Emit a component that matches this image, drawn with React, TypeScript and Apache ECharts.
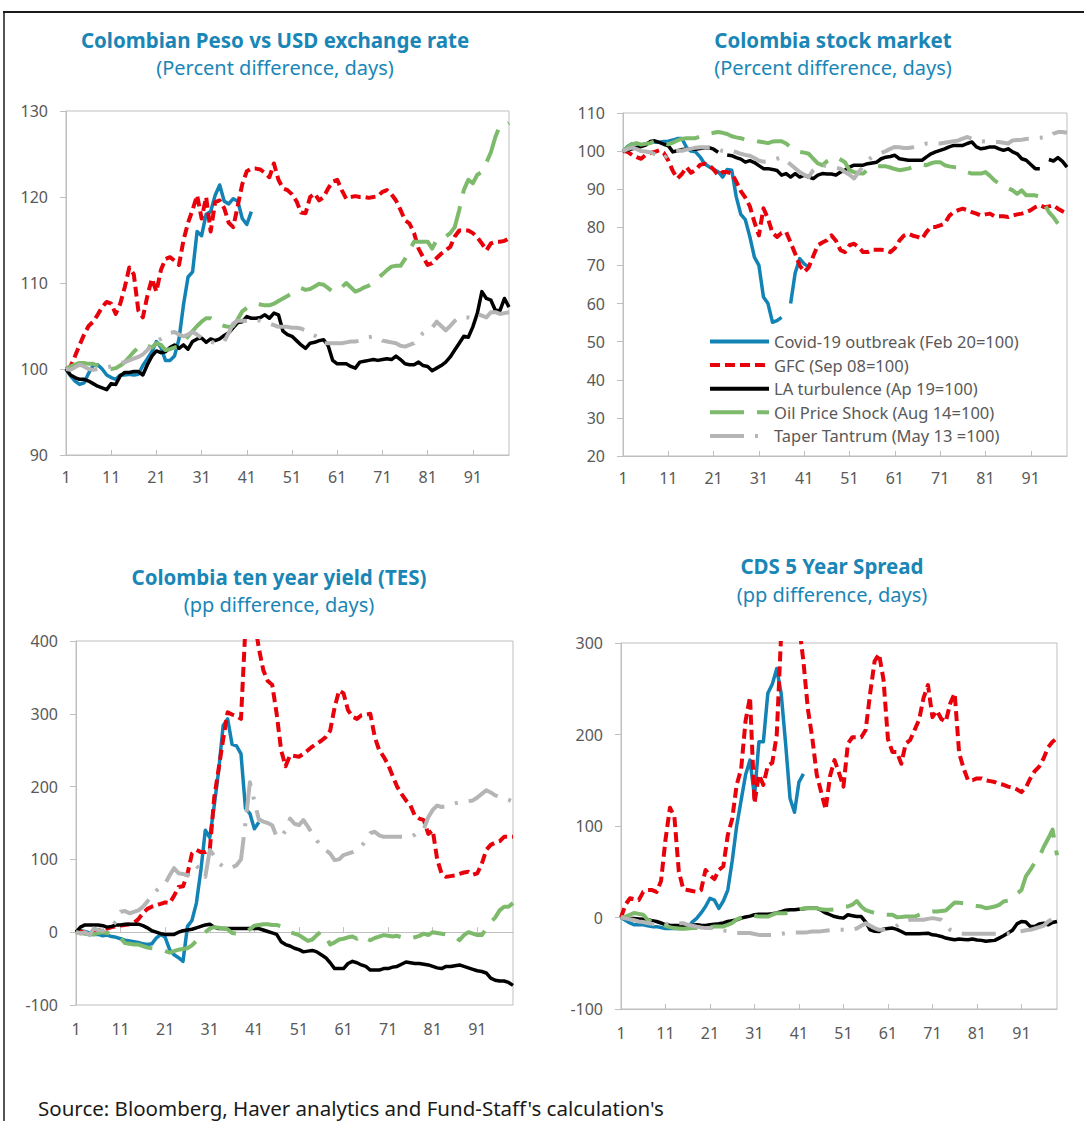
import React, { useEffect, useRef } from "react";
import * as echarts from "echarts";

// ---------- categories ----------
const DAYS = Array.from({ length: 99 }, (_, i) => String(i + 1));
const SERIES_NAMES = [
  "Covid-19 outbreak (Feb 20=100)",
  "GFC (Sep 08=100)",
  "LA turbulence (Ap 19=100)",
  "Oil Price Shock (Aug 14=100)",
  "Taper Tantrum (May 13 =100)",
];

// ---------- Panel 1: Colombian Peso vs USD ----------
const pesoCovid = [100, 99.2, 98.6, 98.2, 98.4, 99.5, 100.4, 100.5, 100.0, 99.3,
  99.0, 98.8, 99.3, 99.3, 99.4, 99.3, 99.4, 100.4, 101.2, 102.0,
  103.2, 102.5, 101.0, 101.0, 101.5, 103.5, 107.5, 110.7, 111.3, 116.0,
  115.5, 118.0, 118.3, 120.2, 121.4, 119.5, 119.2, 119.8, 119.5, 117.5,
  116.8, 118.3];
const pesoGfc = [100, 100.3, 101.5, 102.8, 104.0, 105.0, 105.5, 106.3, 107.2, 107.8,
  107.6, 106.4, 107.6, 109.5, 111.8, 111.0, 106.8, 106.0, 108.5, 110.5,
  109.0, 111.5, 112.8, 113.0, 112.6, 112.1, 115.0, 117.0, 118.5, 120.2,
  117.5, 120.0, 116.0, 119.4, 119.6, 118.7, 117.0, 116.5, 119.0, 121.5,
  123.0, 123.3, 123.3, 123.2, 122.8, 122.3, 123.9, 122.0, 121.0, 120.8,
  120.3, 119.5, 118.2, 118.1, 120.0, 120.4, 119.6, 120.0, 121.0, 121.8,
  122.0, 120.8, 119.8, 120.0, 120.1, 120.0, 120.0, 119.9, 120.0, 120.1,
  120.6, 120.8, 120.3, 119.6, 118.5, 117.3, 116.9, 115.8, 114.0, 113.0,
  112.1, 112.3, 112.9, 113.4, 113.8, 114.2, 115.4, 116.1, 116.1, 116.1,
  115.8, 115.3, 114.6, 113.8, 114.6, 114.8, 114.8, 114.9, 115.2];
const pesoLa = [100, 99.3, 99.0, 98.8, 98.8, 98.6, 98.3, 98.0, 97.8, 97.6,
  98.3, 98.2, 99.2, 99.6, 99.6, 99.7, 99.7, 99.3, 100.5, 101.5,
  102.1, 101.9, 102.0, 102.5, 102.8, 102.4, 102.8, 102.3, 103.2, 103.5,
  103.6, 103.1, 103.5, 103.3, 103.5, 103.9, 104.2, 104.8, 105.4, 105.5,
  106.1, 105.9, 105.9, 106.0, 106.3, 105.9, 106.5, 106.3, 104.4, 104.0,
  103.8, 103.3, 102.8, 102.4, 103.0, 103.1, 103.3, 103.4, 102.7, 101.0,
  100.6, 100.6, 100.6, 100.3, 100.1, 100.8, 100.9, 101.0, 101.1, 101.0,
  101.1, 101.2, 101.1, 101.5, 101.1, 100.6, 100.5, 100.5, 100.8, 100.4,
  100.3, 99.8, 100.1, 100.4, 100.8, 101.4, 102.2, 103.0, 103.8, 103.7,
  104.9, 106.5, 109.0, 108.2, 108.0, 106.8, 106.8, 108.2, 107.2];
const pesoOil = [100, 100.3, 100.5, 100.7, 100.7, 100.6, 100.6, 100.4, 100.2, 100.0,
  100.0, 100.1, 100.4, 100.8, 101.4, 102.0, 102.5, 102.9, 102.7, 102.5,
  103.0, 102.8, 102.2, 102.3, 102.5, 102.6, 103.2, 103.8, 104.4, 105.0,
  105.5, 105.9, 105.9, 105.6, 105.2, 105.0, 104.9, 105.0, 105.8, 106.7,
  107.1, 107.4, 107.6, 107.5, 107.4, 107.4, 107.6, 107.9, 108.2, 108.5,
  108.8, 109.0, 109.4, 109.2, 109.3, 109.6, 109.9, 109.8, 109.4, 109.0,
  109.1, 109.5, 110.0, 109.5, 109.0, 109.2, 109.5, 109.7, 110.0, 110.6,
  111.0, 111.5, 111.9, 112.0, 112.0, 112.8, 113.8, 114.8, 114.8, 114.8,
  114.8, 114.0, 115.0, 115.2, 115.4, 115.8, 116.5, 118.5, 120.8, 122.0,
  121.6, 122.6, 122.9, 124.0, 125.2, 127.0, 128.3, 128.3, 128.6];
const pesoTaper = [100, 99.9, 100.2, 100.5, 100.3, 100.0, 99.9, 100.0, 100.1, 100.2,
  100.3, 100.5, 100.7, 100.8, 101.0, 101.2, 101.4, 101.7, 102.2, 102.8,
  103.3, 103.5, 103.8, 104.2, 104.3, 104.0, 103.8, 104.0, 104.3, 104.0,
  103.6, 103.4, 103.2, 103.0, 103.0, 103.2, 104.2, 105.3, 105.6, 105.6,
  105.6, 105.7, 105.7, 105.6, 105.4, 105.3, 105.1, 104.9, 104.9, 104.9,
  104.8, 104.8, 104.7, 104.5, 104.2, 103.9, 103.6, 103.0, 103.0, 103.0,
  103.0, 103.0, 103.1, 103.2, 103.2, 103.3, 103.5, 103.7, 103.8, 103.6,
  103.3, 103.2, 103.1, 103.0, 102.7, 102.6, 102.8, 103.0, 103.5, 104.2,
  104.5, 104.8, 105.5, 105.0, 104.5, 105.0, 105.6, 106.0, 106.0, 106.0,
  105.9, 106.4, 106.2, 106.0, 106.6, 106.6, 106.4, 106.5, 106.6];

// ---------- Panel 2: Colombia stock market ----------
const stockCovid = [100, 101.2, 101.9, 101.9, 101.6, 101.9, 102.3, 102.4, 102.3, 102.5,
  102.6, 102.9, 103.3, 103.3, 101.0, 100.0, 99.8, 98.5, 96.7, 95.9,
  95.2, 94.6, 93.2, 95.2, 95.0, 88.0, 83.4, 82.0, 77.5, 72.2,
  70.0, 61.7, 60.0, 55.1, 55.5, 56.4, null, 60.0, 68.0, 71.8,
  70.4, 69.6];
const stockGfc = [100, 99.8, 99.0, 98.4, 98.0, 99.0, 99.5, 99.8, 100.2, 99.5,
  97.5, 94.8, 92.8, 94.0, 95.8, 94.3, 95.0, 96.4, 96.7, 96.3,
  95.2, 93.7, 94.5, 94.5, 94.1, 92.0, 89.5, 87.8, 85.5, 81.4,
  77.9, 85.0, 82.3, 78.5, 77.5, 78.5, 78.8, 76.0, 73.1, 70.0,
  68.3, 69.5, 72.5, 75.3, 76.0, 76.6, 77.9, 76.5, 74.0, 73.5,
  75.3, 75.7, 74.8, 73.5, 73.5, 74.1, 74.1, 74.1, 74.0, 73.5,
  74.5, 76.5, 77.8, 78.3, 77.8, 77.5, 77.0, 78.8, 80.1, 80.1,
  80.5, 81.0, 83.0, 84.0, 84.5, 84.9, 84.5, 84.0, 83.6, 83.1,
  83.4, 83.6, 82.9, 82.9, 82.9, 82.7, 83.1, 83.4, 83.6, 84.0,
  84.5, 85.3, 85.8, 85.3, 85.5, 85.8, 84.9, 84.2, 83.6];
const stockLa = [100, 100.3, 100.6, 100.9, 101.2, 101.6, 102.5, 102.7, 102.3, 101.8,
  101.4, 99.8, 100.1, 100.4, 100.5, 100.5, 100.5, 100.7, 100.9, 100.9,
  100.5, 99.7, null, 99.0, 98.8, 98.3, 97.9, 97.1, 97.5, 97.0,
  96.2, 95.4, 95.4, 95.2, 94.9, 93.7, 94.1, 93.2, 94.1, 93.2,
  93.7, 93.2, 92.8, 93.7, 94.1, 94.0, 94.0, 93.7, 94.5, 95.0,
  95.8, 96.3, 96.3, 96.3, 96.7, 96.9, 97.1, 98.0, 98.4, 98.6,
  98.9, 98.0, 97.8, 97.6, 97.6, 97.6, 97.6, 98.5, 99.3, 99.8,
  100.2, 100.6, 101.1, 101.5, 101.5, 101.5, 102.0, 102.4, 101.1, 100.6,
  100.8, 101.1, 101.1, 100.6, 100.2, 100.6, 99.8, 99.3, 98.0, 97.6,
  96.5, 95.4, 95.4, null, 97.8, 97.4, 98.3, 97.3, 95.8];
const stockOil = [100, 101.0, 101.8, 102.1, 101.7, 101.9, 102.1, 102.6, 102.3, 102.1,
  101.8, 102.2, 102.8, 103.2, 103.4, 103.4, 103.4, 103.8, 104.3, 104.6,
  104.8, 105.0, 104.8, 104.5, 103.9, 103.6, 103.4, 103.0, 103.0, 102.8,
  102.5, 102.3, 102.1, 102.5, 102.6, 102.6, 102.0, 101.0, 100.0, 99.8,
  99.6, 99.3, 98.0, 96.8, 96.3, 97.3, 97.9, 98.5, 97.8, 97.1,
  95.0, 94.5, 94.2, 94.1, 95.2, 95.8, 96.0, 96.0, 96.0, 95.7,
  95.3, 95.0, 95.2, 95.4, 95.8, 96.3, 96.5, 96.3, 96.8, 97.1,
  97.1, 96.3, 96.0, 95.8, 95.6, 95.0, 94.5, 94.1, 94.1, 94.1,
  94.5, 93.5, 92.3, 91.5, 91.0, 90.3, 89.7, 88.8, 89.7, 88.4,
  88.4, 88.4, 88.0, 86.2, 84.0, 82.7, 81.0, null, null];
const stockTaper = [100, 100.5, 100.9, 100.5, 100.0, 99.9, 99.7, 99.2, 98.8, 98.0,
  99.3, 100.0, 100.1, 100.1, 100.4, 100.6, 100.9, 101.0, 101.0, 101.0,
  101.0, 100.5, 100.0, 99.8, 100.1, 99.7, 99.3, 99.0, 98.8, 98.2,
  97.5, 97.2, 97.3, 97.6, 98.0, 98.4, 97.5, 96.5, 95.5, 94.5,
  93.8, 93.2, 95.0, 96.0, 96.3, 96.0, 95.8, 95.6, 95.4, 94.5,
  93.8, 92.8, 94.5, 96.0, 97.5, 98.5, 99.0, 99.5, 100.0, 100.6,
  101.1, 101.0, 100.8, 100.8, 101.0, 101.3, 101.6, 102.0, 102.0, 102.0,
  102.0, 102.2, 102.4, 102.6, 102.8, 103.3, 103.7, 103.2, 102.8, 102.6,
  102.5, 102.4, 102.4, 102.4, 102.2, 102.0, 102.8, 102.9, 103.0, 103.2,
  103.3, 103.4, 103.5, 103.6, 103.7, 104.6, 105.0, 105.0, 104.8];

// ---------- Panel 3: Colombia ten year yield (TES) ----------
const tesCovid = [0, 2, 1, -1, -3, -3, -5, -4, -6, -7,
  -9, -11, -12, -13, -14, -16, -17, -16, -8, -3,
  -7, -24, -31, -35, -40, 8, 16, 40, 85, 140,
  130, 174, 222, 284, 293, 258, 256, 245, 170, 163,
  142, 151];
const tesGfc = [0, 1, 0, 0, 1, 3, 4, 5, 7, 8,
  9, 10, 11, 13, 18, 26, 32, 35, 37, 39,
  41, 40, 50, 62, 63, 80, 108, 113, 110, 110,
  113, 185, 225, 265, 302, 299, 297, 293, 420, 450,
  430, 390, 360, 345, 340, 300, 250, 228, 243, 242,
  241, 245, 250, 255, 259, 263, 268, 277, 309, 332,
  328, 305, 296, 293, 298, 299, 300, 268, 250, 241,
  230, 215, 200, 190, 181, 174, 160, 156, 154, 135,
  140, 100, 80, 76, 77, 78, 80, 82, 83, 79,
  81, 94, 113, 120, 123, 125, 131, 131, 131];
const tesLa = [0, 7, 10, 10, 10, 10, 9, 7, 8, 10,
  10, 11, 11, 11, 11, 9, 6, 2, 0, -2,
  -3, -3, -3, 0, 2, 3, 4, 6, 8, 10,
  11, 7, 5, 5, 5, 5, 5, 5, 5, 5,
  5, 5, 3, 1, -1, -3, -13, -17, -19, -22,
  -24, -27, -26, -25, -27, -31, -35, -42, -50, -50,
  -50, -43, -40, -42, -45, -47, -52, -52, -52, -50,
  -50, -48, -47, -44, -41, -42, -43, -43, -44, -45,
  -47, -49, -50, -47, -47, -46, -45, -47, -49, -51,
  -53, -54, -56, -63, -66, -67, -67, -69, -73];
const tesOil = [0, -1, -2, -3, -3, -1, 0, -1, -2, -4,
  -8, -15, -16, -17, -17, -19, -21, -22, -23, -24,
  -26, -28, -26, -24, -23, -22, -18, -12, -6, 0,
  5, 7, 6, 5, 4, -1, -2, -1, 0, 4,
  9, 10, 11, 11, 10, 10, 8, 5, 0, -2,
  -4, -8, -12, -10, -4, 1, -6, -17, -14, -10,
  -9, -7, -6, -9, -4, -8, -11, -8, -6, -4,
  -5, -6, -5, -7, -9, -8, -7, -5, -2, -4,
  0, -1, -2, -3, -4, -6, -11, -4, 0, -2,
  -4, -4, 5, 14, 20, 30, 35, 35, 40];
const tesTaper = [0, -2, 0, -4, 5, 3, 2, 5, 8, 15,
  28, 29, 26, 28, 30, 35, 42, 50, 57, 62,
  67, 78, 88, 81, 80, 78, 82, 91, 85, 76,
  113, 105, 95, 90, 88, 89, 92, 100, 150, 206,
  180, 155, 152, 150, 147, 131, 131, 140, 156, 149,
  147, 154, 145, 135, 126, 118, 113, 108, 99, 100,
  106, 108, 110, 113, 118, 126, 136, 138, 133, 131,
  131, 131, 131, 131, 131, 131, 134, 140, 142, 158,
  168, 174, 172, 173, 175, 177, 178, 179, 180, 181,
  185, 190, 195, 192, 188, 186, 184, 182, 179];

// ---------- Panel 4: CDS 5 Year Spread ----------
const cdsCovid = [0, -3, -6, -8, -8, -8, -9, -10, -10, -11,
  -12, -12, -12, -12, -12, -11, -5, -1, 5, 12,
  21, 19, 10, 18, 30, 62, 100, 128, 156, 172,
  132, 192, 192, 245, 255, 272, 245, 190, 130, 115,
  148, 157];
const cdsGfc = [0, 14, 21, 20, 19, 28, 30, 30, 28, 40,
  85, 120, 110, 50, 31, 30, 29, 28, 30, 52,
  46, 42, 52, 56, 90, 108, 145, 162, 215, 241,
  125, 156, 145, 166, 169, 199, 310, 340, 350, 345,
  320, 280, 228, 196, 156, 137, 118, 155, 172, 158,
  143, 190, 197, 197, 197, 205, 245, 280, 288, 260,
  195, 181, 181, 168, 190, 194, 205, 216, 240, 254,
  219, 226, 217, 214, 234, 245, 180, 163, 150, 150,
  152, 152, 150, 149, 148, 146, 145, 143, 142, 140,
  137, 142, 152, 160, 165, 174, 186, 192, 196];
const cdsLa = [0, -0.5, -1, -1, -1.5, -2, -2.5, -3.5, -4.4, -6,
  -8, -8.5, -8.7, -8.7, -8.7, -8.7, -8.5, -8, -8.5, -8.7,
  -8, -7.3, -6.8, -6, -4.4, -3.5, -2.5, -0.7, 0.5, 1.5,
  3, 3.5, 3.6, 3.6, 4.2, 5, 6.5, 8, 8.4, 8.4,
  9, 9.5, 10, 10.2, 10.2, 8, 5, 3, 1, 0,
  -0.7, 3, 2, 1, 1, -5, -13.5, -15, -15.3, -12.7,
  -12, -11.6, -13, -15.3, -17.8, -17.8, -17.8, -17.8, -17.5, -17.1,
  -18.9, -19.5, -20.7, -22.5, -23.5, -24.4, -23.6, -24, -24.4, -23.6,
  -24.5, -25, -26, -25.5, -25, -22.5, -20, -17, -14, -7,
  -4.4, -5, -9.8, -9.8, -7, -6.2, -8, -5.5, -4.4];
const cdsOil = [0, 1, 3, 5, 4, 3, -2.5, -5, -6.5, -8,
  -9, -10.5, -11.6, -12, -12.4, -12, -11.6, -11.6, -11.6, -11.6,
  -11, -9.8, -9.8, -9.8, -8, -6, -2, 0, 2, 3,
  2, 1, 1, 1, 3, 4.7, 4.7, 4.7, 5, 8,
  9, 10, 10, 10, 10, 9, 8.4, 8.4, 9, 10,
  12, 12, 14, 18, 12, 8, 6.5, 5, 4.7, 3.5,
  3, 3, 0.4, 0.5, 1, 1, 1, 3, 4.7, 5.5,
  6.5, 6.5, 7, 7.6, 12, 16.4, 16, 15.6, 15, 13,
  12.5, 12, 10.2, 11, 12, 13.8, 17.5, 18.5, 21, 26,
  30, 45, 52, 60, 66, 77, 86, 96, 68];
const cdsTaper = [0, -1, -2, -3, -4.4, -5, -6, -7, -7, -7,
  -7, -6.5, -6.2, -6.2, -6.2, -8, -9, -10, -11, -11.6,
  -11.6, -12, -13, -14, -15, -16, -17, -17, -17, -17,
  -18, -19, -19, -19, -19, -19, -18, -17, -16.5, -16.4,
  -16.4, -16.4, -16, -15.3, -15.3, -15, -14.5, -14, -13.5, -13.5,
  -13.5, -13.5, -13.5, -12, -9, -6.2, -9, -11.6, -13.5, -13.5,
  -12, -11.6, -9, -6, -4, -2.5, -2.5, -2.5, -2.5, -1.5,
  -0.7, -1.5, -2.5, -8, -13.5, -15.5, -17, -17.8, -17.8, -17.8,
  -17.8, -17.8, -17.8, -17.8, -17.8, -17.8, -17.8, -17.5, -17.1, -16,
  -15, -14, -13.5, -12, -10.5, -9, -4.4, -1.8, -2.5];

// ---------- panel texts ----------
const PANEL_TITLES = [
  "Colombian Peso vs USD exchange rate",
  "Colombia stock market",
  "Colombia ten year yield (TES)",
  "CDS 5 Year Spread",
];
const PANEL_SUBTITLES = [
  "(Percent difference, days)",
  "(Percent difference, days)",
  "(pp difference, days)",
  "(pp difference, days)",
];
const SOURCE_TEXT = "Source: Bloomberg, Haver analytics and Fund-Staff's calculation's";

// ---------- layout & styles ----------
const FONT = "'Noto Sans', 'Open Sans', sans-serif";
const TITLE_BLUE = "#1A86B6";
const LABEL_GRAY = "#595959";
const AXIS_GRAY = "#BFBFBF";

const LINE_STYLES: any[] = [
  { color: "#1383B5", width: 3.5, type: "solid" },
  { color: "#E8000B", width: 4, type: [10, 5] },
  { color: "#000000", width: 3.5, type: "solid" },
  { color: "#7DBA6B", width: 4, type: [34, 13] },
  { color: "#B5B5B5", width: 4, type: [34, 11, 3, 11] },
];

const GRIDS = [
  { left: 66, top: 111, width: 443, height: 344 },
  { left: 623, top: 113, width: 444, height: 343 },
  { left: 76, top: 641, width: 437, height: 364 },
  { left: 621, top: 643, width: 436, height: 366 },
];
const Y_RANGES = [
  { min: 90, max: 130, interval: 10 },
  { min: 20, max: 110, interval: 10 },
  { min: -100, max: 400, interval: 100 },
  { min: -100, max: 300, interval: 100 },
];
const TITLE_POS = [
  { x: 275, y: 40, sy: 67 },
  { x: 833, y: 40, sy: 67 },
  { x: 279, y: 577, sy: 604 },
  { x: 832, y: 566, sy: 594 },
];

const PANEL_DATA = [
  [pesoCovid, pesoGfc, pesoLa, pesoOil, pesoTaper],
  [stockCovid, stockGfc, stockLa, stockOil, stockTaper],
  [tesCovid, tesGfc, tesLa, tesOil, tesTaper],
  [cdsCovid, cdsGfc, cdsLa, cdsOil, cdsTaper],
];

function buildOption(): any {
  const grid = GRIDS.map((g) => ({
    ...g,
    show: true,
    borderColor: AXIS_GRAY,
    borderWidth: 1,
    backgroundColor: "transparent",
    containLabel: false,
  }));

  const xAxis = GRIDS.map((g, i) => ({
    type: "category",
    gridIndex: i,
    data: DAYS,
    boundaryGap: false,
    axisLine: { show: true, onZero: i === 2, lineStyle: { color: AXIS_GRAY, width: 1 } },
    axisTick: { show: true, inside: true, length: 5, interval: 9, lineStyle: { color: AXIS_GRAY } },
    axisLabel: {
      interval: 9,
      color: LABEL_GRAY,
      fontSize: 16,
      fontFamily: FONT,
      margin: i >= 2 ? 16 : 14,
    },
    splitLine: { show: false },
  }));

  const yAxis = Y_RANGES.map((r, i) => ({
    type: "value",
    gridIndex: i,
    min: r.min,
    max: r.max,
    interval: r.interval,
    axisLine: { show: true, onZero: false, lineStyle: { color: AXIS_GRAY, width: 1 } },
    axisTick: { show: true, inside: false, length: 6, lineStyle: { color: AXIS_GRAY } },
    axisLabel: { color: LABEL_GRAY, fontSize: 16, fontFamily: FONT, margin: 18 },
    splitLine: { show: false },
  }));

  const series: any[] = [];
  PANEL_DATA.forEach((panel, pi) => {
    panel.forEach((data, si) => {
      const st = LINE_STYLES[si];
      series.push({
        type: "line",
        name: SERIES_NAMES[si],
        xAxisIndex: pi,
        yAxisIndex: pi,
        data,
        symbol: "none",
        showSymbol: false,
        connectNulls: false,
        clip: true,
        color: st.color,
        lineStyle: { color: st.color, width: st.width, type: st.type, cap: "butt", join: "round" },
        emphasis: { disabled: true },
        z: 2 + si,
      });
    });
  });

  const graphic: any[] = [
    { type: "line", shape: { x1: 3, y1: 12, x2: 1084, y2: 12 }, style: { stroke: "#1a1a1a", lineWidth: 2 } },
    { type: "line", shape: { x1: 4, y1: 12, x2: 4, y2: 1121 }, style: { stroke: "#1a1a1a", lineWidth: 1.5 } },
  ];
  TITLE_POS.forEach((p, i) => {
    graphic.push({
      type: "text",
      x: p.x,
      y: p.y,
      style: {
        text: PANEL_TITLES[i],
        fill: TITLE_BLUE,
        font: `bold 20.5px ${FONT}`,
        textAlign: "center",
        textVerticalAlign: "middle",
        align: "center",
        verticalAlign: "middle",
      },
    });
    graphic.push({
      type: "text",
      x: p.x,
      y: p.sy,
      style: {
        text: PANEL_SUBTITLES[i],
        fill: TITLE_BLUE,
        font: `20px ${FONT}`,
        textAlign: "center",
        textVerticalAlign: "middle",
        align: "center",
        verticalAlign: "middle",
      },
    });
  });
  graphic.push({
    type: "text",
    x: 38,
    y: 1108,
    style: {
      text: SOURCE_TEXT,
      fill: "#1a1a1a",
      font: `20.5px ${FONT}`,
      textAlign: "left",
      textVerticalAlign: "middle",
      align: "left",
      verticalAlign: "middle",
    },
  });

  return {
    animation: false,
    backgroundColor: "#ffffff",
    grid,
    xAxis,
    yAxis,
    series,
    legend: {
      show: true,
      orient: "vertical",
      left: 708,
      top: 333,
      itemWidth: 59,
      itemHeight: 14,
      itemGap: 6.6,
      padding: 0,
      selectedMode: false,
      data: SERIES_NAMES,
      textStyle: { color: LABEL_GRAY, fontSize: 16.5, fontFamily: FONT, lineHeight: 16 },
      lineStyle: { width: 4 },
      itemStyle: { opacity: 0 },
    },
    graphic,
  };
}

export default function App() {
  const ref = useRef<HTMLDivElement>(null);
  useEffect(() => {
    if (!ref.current) return;
    const chart = echarts.init(ref.current, undefined, { renderer: "svg" });
    chart.setOption(buildOption());
    return () => chart.dispose();
  }, []);
  return (
    <div
      ref={ref}
      style={{ position: "absolute", left: 0, top: 0, width: 1084, height: 1121, background: "#fff" }}
    />
  );
}
